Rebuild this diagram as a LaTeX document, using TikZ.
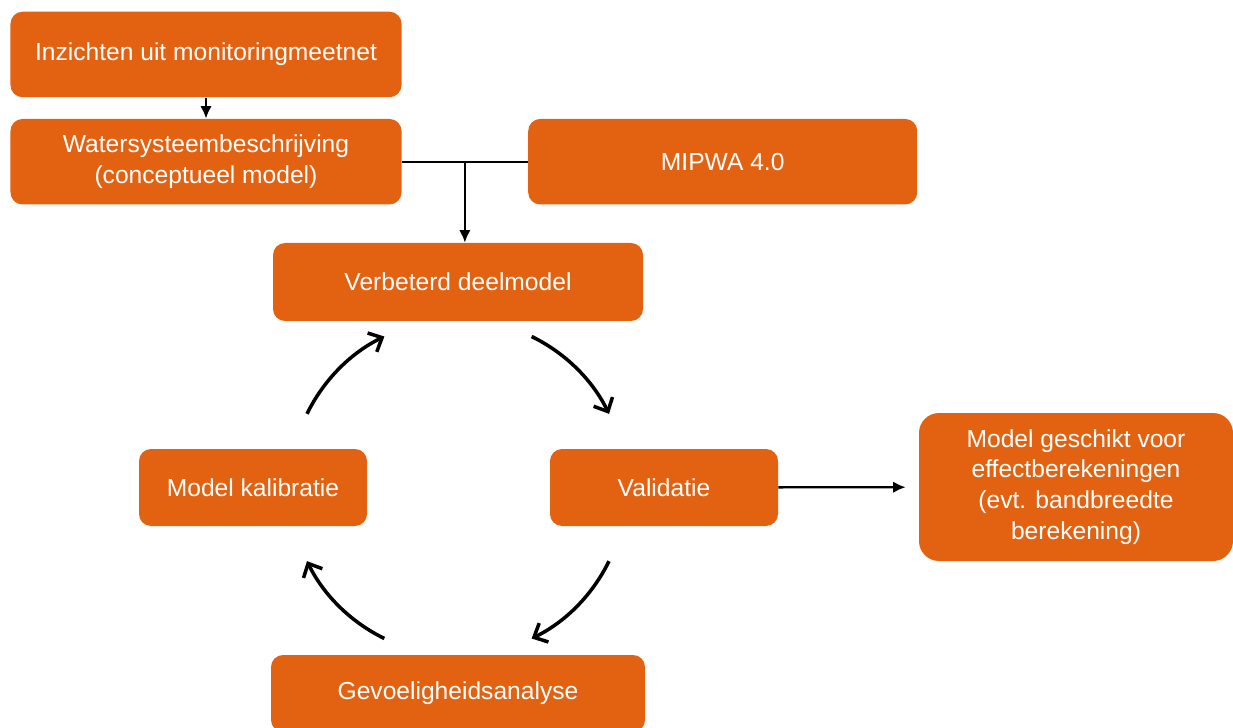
\documentclass[tikz,border=0pt]{standalone}
\usepackage{fontspec}
\setmainfont{Liberation Sans}
\usetikzlibrary{arrows.meta,positioning,calc}
\definecolor{boxorange}{RGB}{227,98,17}

\begin{document}
\begin{tikzpicture}[
    node distance=0.42cm,
    every node/.style={font=\fontsize{14}{17.5}\selectfont},
    box/.style={fill=boxorange, text=white, rounded corners=0.24cm, align=center, inner sep=0pt},
    wide/.style={box, minimum width=7.82cm, minimum height=1.71cm},
    cyclebox/.style={box, minimum width=4.56cm, minimum height=1.54cm},
    flow/.style={-{Latex[length=2.5mm,width=2.3mm]}, line width=1.3pt},
    turn/.style={-{Straight Barb[length=2.2mm,width=4.2mm]}, line width=2pt}
]
\useasboundingbox (0,0) rectangle (24.66,-14.56);
\node[wide] (inz) at (4.12,-1.09) {Inzichten uit monitoringmeetnet};
\node[wide, below=of inz] (wsb) {Watersysteembeschrijving\\(conceptueel model)};
\node[wide, right=2.52cm of wsb, minimum width=7.78cm] (mip) {MIPWA 4.0};
\node[box, minimum width=7.40cm, minimum height=1.56cm] (verb) at (9.16,-5.64) {Verbeterd deelmodel};
\node[cyclebox] (kal) at (5.06,-9.75) {Model kalibratie};
\node[cyclebox] (val) at (13.28,-9.75) {Validatie};
\node[box, rounded corners=0.4cm, minimum width=6.28cm, minimum height=2.96cm] (fit) at (21.52,-9.74) {Model geschikt voor\\effectberekeningen\\(evt. bandbreedte\\berekening)};
\node[box, minimum width=7.48cm, minimum height=1.54cm] (gev) at (9.16,-13.87) {Gevoeligheidsanalyse};

\draw[flow] (inz) -- (wsb);
\coordinate (jn) at ($(wsb.east)!0.5!(mip.west)$);
\draw[line width=1.3pt] (wsb.east) -- (mip.west);
\draw[flow] (jn) -- (jn |- verb.north);
\draw[flow, shorten >=0.26cm] (val) -- (fit);

% cycle arrows round the loop
\coordinate (hub) at (9.16,-9.75);
\foreach \a in {154,64,-26,-116}
    \draw[turn] ($(hub)+(\a:3.36)$) arc[start angle=\a, end angle=\a-38, radius=3.36];
\end{tikzpicture}
\end{document}
